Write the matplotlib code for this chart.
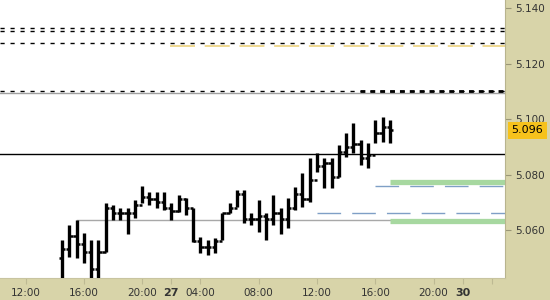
import numpy as np
import matplotlib
matplotlib.use("Agg")
import matplotlib.pyplot as plt
import matplotlib.transforms as mtransforms

plt.rcParams['lines.scale_dashes'] = False
plt.rcParams['font.family'] = ['DejaVu Sans']

# 30-minute OHLC bars
highs = [5.0564, 5.0619, 5.0636, 5.0590, 5.0564, 5.0564, 5.0697, 5.0690, 5.0679, 5.0679,
         5.0708, 5.0759, 5.0737, 5.0737, 5.0737, 5.0697, 5.0726, 5.0715, 5.0679, 5.0575,
         5.0564, 5.0571, 5.0661, 5.0697, 5.0744, 5.0744, 5.0661, 5.0708, 5.0661, 5.0726,
         5.0679, 5.0715, 5.0755, 5.0805, 5.0859, 5.0877, 5.0859, 5.0859, 5.0906, 5.0950,
         5.0986, 5.0924, 5.0914, 5.0996, 5.1007, 5.0996]
lows = [5.0400, 5.0503, 5.0499, 5.0481, 5.0400, 5.0400, 5.0521, 5.0636, 5.0636, 5.0584,
        5.0644, 5.0697, 5.0690, 5.0679, 5.0672, 5.0636, 5.0665, 5.0654, 5.0557, 5.0517,
        5.0510, 5.0517, 5.0564, 5.0661, 5.0683, 5.0626, 5.0619, 5.0593, 5.0564, 5.0619,
        5.0584, 5.0607, 5.0672, 5.0683, 5.0701, 5.0809, 5.0751, 5.0751, 5.0791, 5.0863,
        5.0877, 5.0834, 5.0823, 5.0914, 5.0917, 5.0914]
closes = [5.053, 5.058, 5.055, 5.052, 5.046, 5.052, 5.068, 5.066, 5.066, 5.066,
          5.069, 5.072, 5.071, 5.070, 5.068, 5.067, 5.071, 5.068, 5.056, 5.054,
          5.054, 5.056, 5.066, 5.068, 5.073, 5.064, 5.064, 5.065, 5.064, 5.066,
          5.064, 5.068, 5.073, 5.071, 5.078, 5.083, 5.084, 5.079, 5.088, 5.090,
          5.091, 5.086, 5.087, 5.095, 5.097, 5.096]
opens = [5.050] + closes[:-1]

last_price = 5.096

# time axis labels (bar index positions)
tick_pos = [-5, 3, 11, 15, 19, 27, 35, 43, 51, 55, 59]
tick_labels = ["12:00", "16:00", "20:00", "27", "04:00", "08:00", "12:00", "16:00", "20:00", "30", ""]
y_ticks = [5.06, 5.08, 5.10, 5.12, 5.14]

# horizontal levels
black_dashed = [5.1328, 5.1317, 5.1274, 5.1100]
yellow_level = 5.1263
gray_levels = [5.1094, 5.0636]
black_solid = 5.0874
blue_levels = [5.0759, 5.0661]
green_levels = [5.0773, 5.0631]

tan = '#d8d4a9'
fig = plt.figure(figsize=(5.5, 3.0), dpi=100, facecolor=tan)
ax = fig.add_axes([0, 22 / 300, 505 / 550, 278 / 300])
ax.set_facecolor('white')

x = np.arange(len(highs))
ax.set_xlim(-8.5, 60.8)
ax.set_ylim(5.0427, 5.1429)

# levels
for lv in black_dashed:
    ax.axhline(lv, color='black', lw=1, dashes=(3.0, 4.2), zorder=2)
ax.plot([40.9, 60.8], [5.1100, 5.1100], color='black', lw=2, dashes=(3.5, 3.6), zorder=2)
ax.plot([14.8, 60.8], [yellow_level, yellow_level], color='#ecd27e', lw=1.2, dashes=(18, 7), zorder=2)
ax.axhline(gray_levels[0], color='#a0a0a0', lw=1, zorder=1)
ax.plot([2, 60.8], [gray_levels[1], gray_levels[1]], color='#a8a8a8', lw=1, zorder=1)
ax.axhline(black_solid, color='black', lw=1, zorder=2)
ax.plot([42.9, 60.8], [blue_levels[0]] * 2, color='#7f9fc6', lw=1, dashes=(17, 8), zorder=2)
ax.plot([35, 60.8], [blue_levels[1]] * 2, color='#7f9fc6', lw=1, dashes=(17, 8), zorder=2)
for lv in green_levels:
    ax.plot([45, 60.8], [lv, lv], color='#a7d8a0', lw=3.8, solid_capstyle='butt', zorder=2)

# OHLC bars
ax.vlines(x, lows, highs, color='black', lw=2.4, zorder=3)
ax.hlines(opens, x - 0.45, x, color='black', lw=1.8, zorder=3)
ax.hlines(closes, x, x + 0.45, color='black', lw=1.8, zorder=3)

# axes styling
for side in ['left', 'top']:
    ax.spines[side].set_visible(False)
ax.spines['right'].set_color('#b8b48e')
ax.spines['bottom'].set_color('#c8c4a0')
ax.yaxis.tick_right()
ax.set_yticks(y_ticks)
ax.set_yticklabels(["%.3f" % v for v in y_ticks])
ax.tick_params(axis='y', length=4, width=0.8, color='#9a9676', pad=3,
               labelsize=7.5, labelcolor='#333333')
ax.set_xticks(tick_pos)
ax.set_xticklabels(tick_labels)
ax.tick_params(axis='x', length=4, width=0.8, color='#bdb993', pad=3,
               labelsize=7.5, labelcolor='#333333')
for lab, t in zip(ax.get_xticklabels(), tick_labels):
    if t in ("27", "30"):
        lab.set_fontweight('bold')
        lab.set_fontsize(8)

# last price badge
trans = mtransforms.blended_transform_factory(ax.transAxes, ax.transData)
ax.text(1.013, last_price, "%.3f" % last_price, transform=trans, ha='left', va='center',
        fontsize=8, color='black', clip_on=False, zorder=5,
        bbox=dict(boxstyle='square,pad=0.32', fc='#f6c21c', ec='none'))

fig.savefig("out.png", dpi=100, facecolor=tan)
